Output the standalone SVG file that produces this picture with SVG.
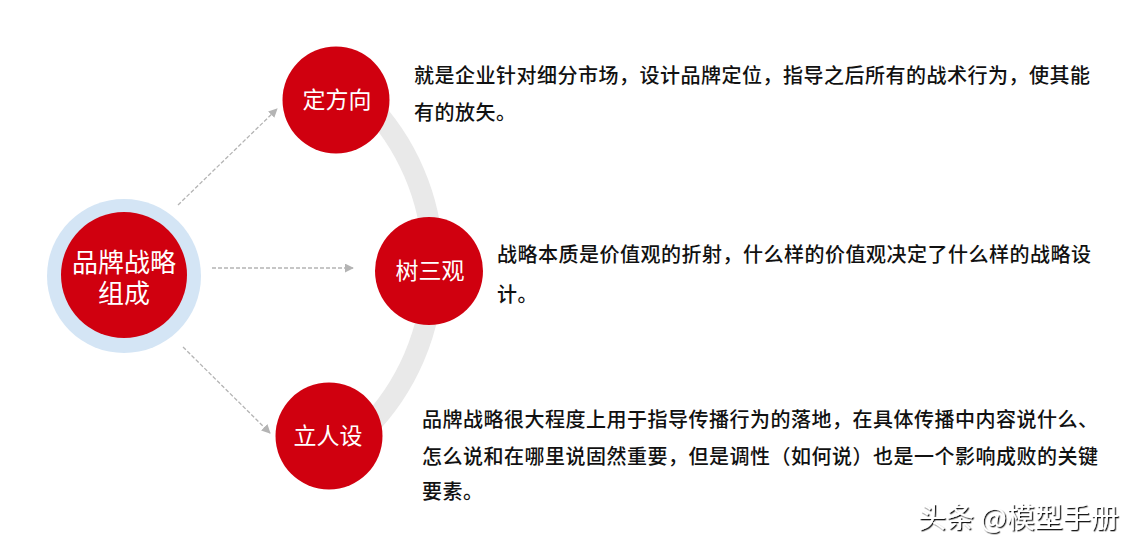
<svg xmlns="http://www.w3.org/2000/svg" width="1144" height="552" viewBox="0 0 1144 552">
<defs>
<style>
.node{fill:#d0000f}
.lbl{fill:#fff;font-family:"Noto Sans CJK SC","Noto Sans",sans-serif;font-size:23px;text-anchor:middle}
.desc{fill:#111;font-family:"Noto Sans CJK SC","Noto Sans",sans-serif;font-size:20px;font-weight:500;letter-spacing:0.5px}
.conn{stroke:#b4b4b4;stroke-width:1.3;stroke-dasharray:4 2;fill:none;marker-end:url(#ah)}
</style>
<marker id="ah" viewBox="0 0 10 10" refX="9" refY="5" markerWidth="9" markerHeight="9" markerUnits="userSpaceOnUse" orient="auto">
<path d="M0,0 L10,5 L0,10 z" fill="#b4b4b4"/>
</marker>
<filter id="sh" x="-10%" y="-30%" width="120%" height="160%">
<feDropShadow dx="1.3" dy="1.3" stdDeviation="0.6" flood-color="#000" flood-opacity="0.9"/>
</filter>
</defs>
<rect width="1144" height="552" fill="#fff"/>
<g id="arc">
<path d="M365 100 A234 234 0 0 1 365 430" fill="none" stroke="#e9e9e9" stroke-width="21"/>
</g>
<g id="connectors">
<line class="conn" x1="178" y1="205" x2="277" y2="109"/>
<line class="conn" x1="212" y1="268" x2="353" y2="268"/>
<line class="conn" x1="183" y1="347" x2="270" y2="433"/>
</g>
<g id="center">
<circle cx="124" cy="276" r="77" fill="#d4e5f5"/>
<circle cx="124" cy="275" r="63" class="node"/>
<text fill="#fff" font-family="Noto Sans CJK SC, Noto Sans, sans-serif" font-size="26" text-anchor="middle"><tspan x="124" y="272">品牌战略</tspan><tspan x="124" y="303">组成</tspan></text>
</g>
<g id="n1">
<circle cx="336" cy="100" r="53.5" class="node"/>
<text x="337" y="108" class="lbl">定方向</text>
</g>
<g id="n2">
<circle cx="429" cy="271" r="54" class="node"/>
<text x="430" y="279" class="lbl">树三观</text>
</g>
<g id="n3">
<circle cx="329" cy="436" r="53.5" class="node"/>
<text x="328" y="444" class="lbl">立人设</text>
</g>
<g id="d1">
<text x="414" y="83" class="desc">就是企业针对细分市场，设计品牌定位，指导之后所有的战术行为，使其能</text>
<text x="414" y="120" class="desc">有的放矢。</text>
</g>
<g id="d2">
<text x="497" y="262" class="desc">战略本质是价值观的折射，什么样的价值观决定了什么样的战略设</text>
<text x="497" y="302" class="desc">计。</text>
</g>
<g id="d3">
<text x="422" y="427" class="desc">品牌战略很大程度上用于指导传播行为的落地，在具体传播中内容说什么、</text>
<text x="422" y="464" class="desc">怎么说和在哪里说固然重要，但是调性（如何说）也是一个影响成败的关键</text>
<text x="422" y="499" class="desc">要素。</text>
</g>
<g id="watermark">
<text x="918" y="528" fill="#fff" font-family="Noto Sans CJK SC, Noto Sans, sans-serif" font-size="28" filter="url(#sh)">头条 @模型手册</text>
</g>
</svg>
